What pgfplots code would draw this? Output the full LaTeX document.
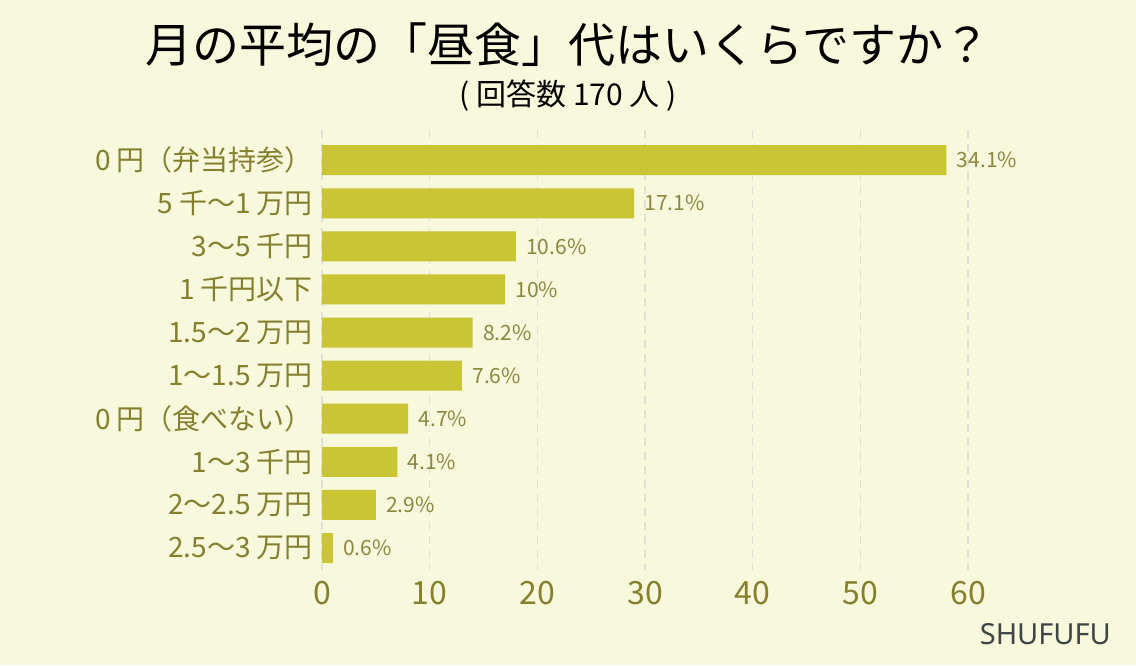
\documentclass[border=0pt]{standalone}
\usepackage{fontspec}
\setmainfont{Noto Sans CJK JP}
\newfontfamily\latinfont{Noto Sans}
\usepackage{pgfplots}
\pgfplotsset{compat=1.18}

\definecolor{bg}{HTML}{F7F8DC}
\definecolor{barcol}{HTML}{CAC535}
\definecolor{labcol}{HTML}{857F2E}
\definecolor{valcol}{HTML}{8C8640}
\definecolor{gridcol}{HTML}{E0E0D6}
\definecolor{credit}{HTML}{3F4447}

\begin{document}
\begin{tikzpicture}[x=1pt,y=1pt]
\fill[bg] (0,0) rectangle (568,332.5);
\begin{axis}[
  at={(161pt,47.5pt)}, anchor=south west,
  scale only axis, width=323pt, height=220pt,
  xmin=0, xmax=60, ymin=-0.7, ymax=9.51,
  y dir=reverse,
  xbar, bar width=15pt,
  axis line style={draw=none},
  major tick length=0pt,
  xtick={0,10,...,60},
  ytick={0,...,9},
  yticklabels={0 円（弁当持参）,5 千～1 万円,3～5 千円,1 千円以下,1.5～2 万円,1～1.5 万円,0 円（食べない）,1～3 千円,2～2.5 万円,2.5～3 万円},
  xmajorgrids,
  grid style={color=gridcol, line width=0.6pt, dash pattern=on 4pt off 3pt},
  /pgf/number format/assume math mode=true,
  xticklabel style={font=\fontsize{16}{18}\selectfont, text=labcol, yshift=-2pt},
  yticklabel style={font=\fontsize{14}{16}\selectfont, text=labcol, xshift=-1pt},
  point meta=explicit symbolic,
  nodes near coords,
  nodes near coords style={font=\fontsize{10.5}{12}\selectfont, text=valcol, anchor=west, inner sep=0pt, xshift=5pt},
]
\addplot[fill=barcol, draw=none] coordinates {
  (58,0) [34.1\%]
  (29,1) [17.1\%]
  (18,2) [10.6\%]
  (17,3) [10\%]
  (14,4) [8.2\%]
  (13,5) [7.6\%]
  (8,6) [4.7\%]
  (7,7) [4.1\%]
  (5,8) [2.9\%]
  (1,9) [0.6\%]
};
\end{axis}
\node[font=\fontsize{23.5}{28}\selectfont, text=black] at (284,310) {月の平均の「昼食」代はいくらですか？};
\node[font=\fontsize{15}{18}\selectfont, text=black] at (284,284.5) {( 回答数 170 人 )};
\node[font=\latinfont\fontsize{14.5}{17}\selectfont, text=credit, anchor=east] at (559,15.5) {SHUFUFU};
\pgfresetboundingbox
\path (0,0) rectangle (568,332.5);
\end{tikzpicture}
\end{document}
